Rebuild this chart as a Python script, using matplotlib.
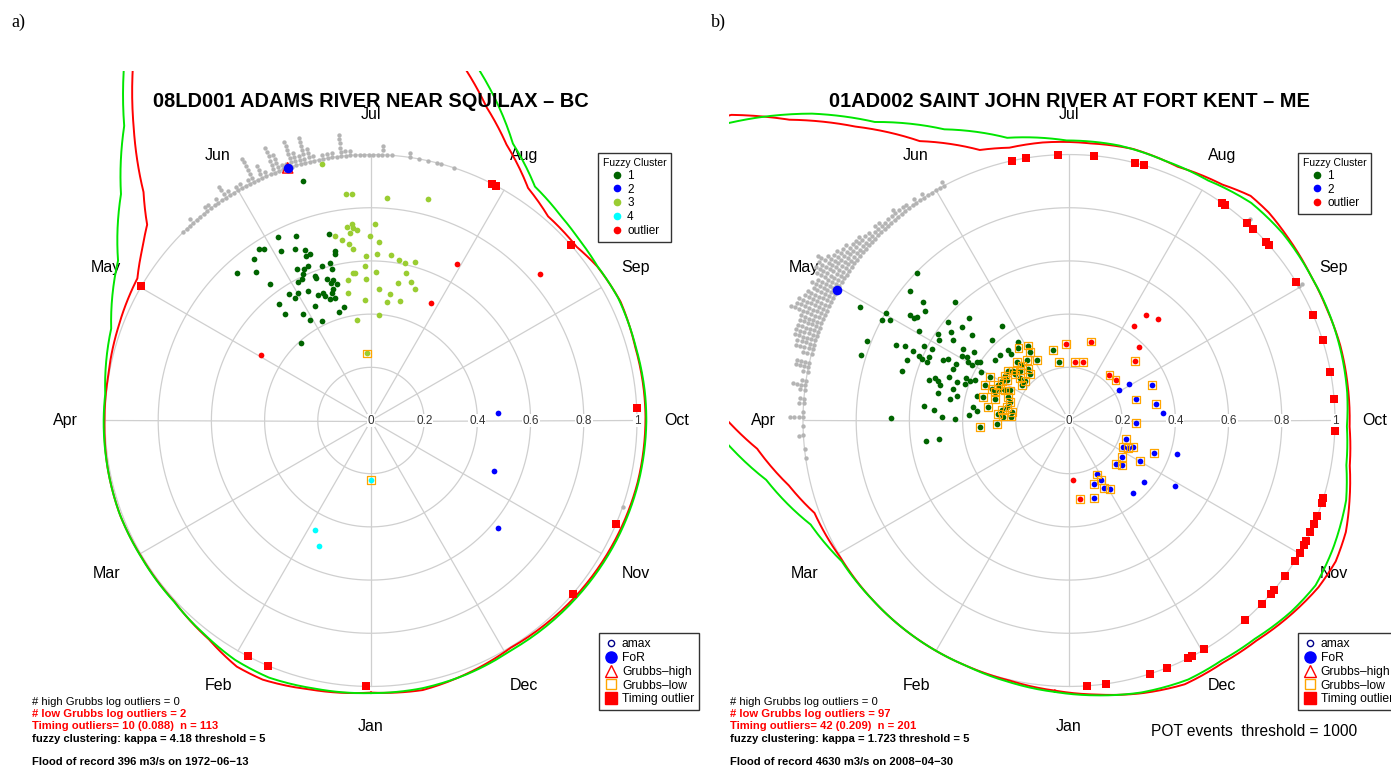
import numpy as np
import matplotlib.pyplot as plt
from matplotlib.lines import Line2D
from matplotlib.path import Path

plt.rcParams['font.family'] = ['Liberation Sans', 'DejaVu Sans']

months = ['Jan', 'Feb', 'Mar', 'Apr', 'May', 'Jun', 'Jul', 'Aug', 'Sep', 'Oct', 'Nov', 'Dec']
ring_ticks = [0, 0.2, 0.4, 0.6, 0.8, 1.0]
ring_labels = ['0', '0.2', '0.4', '0.6', '0.8', '1']

# ---------------- panel a : 08LD001 ----------------
a_title = '08LD001 ADAMS RIVER NEAR SQUILAX – BC'
# rim histogram of event dates (day of year, number of events)
a_hist_day = [137, 138, 139, 140, 141, 142, 143, 144, 145, 146, 147, 148, 149, 150, 151, 152, 153,
              154, 155, 156, 157, 158, 159, 160, 161, 162, 163, 164, 165, 166, 167, 168, 169, 170,
              171, 172, 173, 174, 175, 176, 177, 178, 179, 180, 181, 182, 183, 184, 185, 186, 187,
              191, 193, 195, 197, 198, 201, 293]
a_hist_n = [1, 1, 1, 2, 1, 1, 1, 2, 2, 1, 2, 1, 4, 2, 1, 2, 2,
            1, 2, 7, 1, 4, 2, 1, 7, 5, 2, 2, 7, 4, 3, 7, 4, 2,
            1, 2, 2, 2, 1, 6, 2, 2, 1, 1, 1, 1, 1, 1, 3, 1, 1,
            2, 1, 1, 1, 1, 1, 1]
# fuzzy clusters (seasonality vector components)
a_c1_x = [-0.351, -0.281, -0.157, -0.422, -0.403, -0.337, -0.287, -0.247, -0.230, -0.243, -0.137,
          -0.135, -0.441, -0.503, -0.434, -0.381, -0.277, -0.253, -0.235, -0.256, -0.184, -0.154,
          -0.147, -0.210, -0.206, -0.275, -0.260, -0.164, -0.151, -0.141, -0.129, -0.307, -0.275,
          -0.285, -0.235, -0.201, -0.181, -0.172, -0.147, -0.141, -0.135, -0.154, -0.345, -0.322,
          -0.256, -0.228, -0.209, -0.185, -0.122, -0.101, -0.263, -0.255]
a_c1_y = [0.689, 0.694, 0.703, 0.644, 0.645, 0.636, 0.644, 0.642, 0.627, 0.617, 0.637,
          0.627, 0.608, 0.554, 0.559, 0.514, 0.568, 0.569, 0.582, 0.552, 0.582, 0.593,
          0.569, 0.544, 0.534, 0.522, 0.531, 0.531, 0.517, 0.527, 0.512, 0.476, 0.481,
          0.459, 0.487, 0.473, 0.481, 0.468, 0.481, 0.493, 0.459, 0.456, 0.437, 0.401,
          0.400, 0.377, 0.430, 0.375, 0.409, 0.427, 0.292, 0.899]
a_c2_x = [0.478, 0.462, 0.478]
a_c2_y = [0.027, -0.191, -0.404]
a_c3_x = [-0.094, -0.072, 0.061, 0.216, -0.091, -0.072, -0.066, -0.054, -0.079, -0.137, -0.110,
          -0.082, -0.069, -0.004, 0.015, 0.031, -0.019, 0.024, 0.074, 0.106, 0.127, 0.166,
          -0.022, -0.069, -0.060, 0.018, 0.130, -0.085, -0.020, 0.102, 0.150, 0.166, -0.085,
          0.031, 0.071, -0.024, 0.059, 0.109, -0.054, 0.029, -0.184]
a_c3_y = [0.851, 0.851, 0.836, 0.834, 0.727, 0.737, 0.724, 0.718, 0.705, 0.695, 0.680,
          0.664, 0.643, 0.695, 0.739, 0.673, 0.618, 0.625, 0.624, 0.602, 0.591, 0.597,
          0.582, 0.555, 0.555, 0.558, 0.555, 0.529, 0.532, 0.518, 0.522, 0.493, 0.479,
          0.496, 0.474, 0.453, 0.447, 0.449, 0.377, 0.397, 0.966]
a_c3low_x = [-0.016]
a_c3low_y = [0.252]
a_c4_x = [-0.212, -0.195]
a_c4_y = [-0.412, -0.471]
a_c4low_x = [0.0]
a_c4low_y = [-0.224]
a_out_x = [0.324, 0.637, 0.227, -0.415]
a_out_y = [0.588, 0.550, 0.442, 0.246]
a_timing_day = [210, 211, 232, 122, 271, 297, 315, 28, 23, 1]
a_for_day = 164          # 1972-06-13
a_high_day = [164]
# circular densities (day of year, radius)
a_red_day = [0, 13, 23, 29, 37, 48, 60, 70, 81, 91, 101, 112, 123, 129, 133, 137, 143, 148,
             152, 162, 172, 183, 193, 198, 203, 209, 217, 224, 233, 239, 248, 258, 268, 273,
             287, 300, 315, 333, 344, 354]
a_red_r = [1.023, 1.037, 1.056, 1.054, 1.024, 1.005, 1.004, 1.008, 1.006, 1.002, 1.002, 1.013,
           1.028, 1.078, 1.118, 1.212, 1.419, 1.600, 1.85, 2.1, 2.2, 2.0, 1.6, 1.363, 1.256,
           1.156, 1.055, 1.016, 1.012, 1.029, 1.039, 1.031, 1.032, 1.032, 1.029, 1.022, 1.014,
           1.003, 1.018, 1.032]
a_green_day = [0, 12, 22, 30, 38, 48, 60, 71, 81, 91, 97, 111, 124, 134, 142, 147, 152, 162,
               172, 183, 193, 200, 210, 218, 226, 232, 239, 247, 258, 268, 274, 287, 300, 315,
               333, 344, 354]
a_green_r = [1.025, 1.030, 1.040, 1.035, 1.020, 1.006, 1.005, 1.008, 1.006, 1.005, 1.004, 1.036,
             1.125, 1.268, 1.445, 1.619, 1.9, 2.15, 2.25, 2.1, 1.7, 1.377, 1.170, 1.074, 1.049,
             1.037, 1.030, 1.037, 1.033, 1.035, 1.035, 1.032, 1.027, 1.020, 1.012, 1.020, 1.025]
a_stats = ['# high Grubbs log outliers = 0', '# low Grubbs log outliers = 2',
           'Timing outliers= 10 (0.088)  n = 113',
           'fuzzy clustering: kappa = 4.18 threshold = 5',
           'Flood of record 396 m3/s on 1972\u221206\u221213']

# ---------------- panel b : 01AD002 ----------------
b_title = '01AD002 SAINT JOHN RIVER AT FORT KENT – ME'
b_hist_day = [83, 85, 88, 90, 92, 93, 95, 96, 98, 99, 100, 102, 103, 104, 106, 107, 108, 109,
              110, 111, 112, 113, 114, 115, 116, 117, 118, 119, 120, 121, 122, 123, 124, 125,
              126, 127, 128, 129, 130, 131, 132, 133, 134, 135, 136, 137, 138, 139, 140, 141,
              142, 143, 144, 145, 146, 147, 148, 149, 150, 151, 152, 153, 154, 225, 243]
b_hist_n = [1, 1, 2, 1, 4, 1, 2, 2, 2, 4, 2, 2, 4, 4, 3, 5, 5, 6,
            6, 6, 6, 6, 9, 8, 8, 7, 7, 6, 7, 6, 7, 8, 8, 9,
            7, 6, 6, 5, 5, 4, 4, 4, 3, 3, 2, 3, 3, 2, 2, 2,
            3, 2, 2, 2, 1, 2, 1, 2, 1, 1, 1, 1, 2, 2, 2]
b_c1_x = [-0.786, -0.598, -0.429, -0.548, -0.541, -0.688, -0.702, -0.673, -0.598, -0.583, -0.570,
          -0.454, -0.375, -0.401, -0.253, -0.563, -0.491, -0.488, -0.445, -0.437, -0.363, -0.291,
          -0.758, -0.783, -0.650, -0.617, -0.545, -0.585, -0.516, -0.563, -0.554, -0.525, -0.533,
          -0.608, -0.629, -0.473, -0.454, -0.425, -0.435, -0.397, -0.403, -0.357, -0.385, -0.379,
          -0.366, -0.347, -0.335, -0.332, -0.259, -0.278, -0.228, -0.219, -0.193, -0.525, -0.504,
          -0.491, -0.485, -0.450, -0.422, -0.387, -0.372, -0.353, -0.391, -0.435, -0.491, -0.447,
          -0.422, -0.345, -0.544, -0.506, -0.479, -0.429, -0.375, -0.362, -0.347, -0.669, -0.538,
          -0.488, -0.570]
b_c1_y = [0.426, 0.486, 0.445, 0.445, 0.411, 0.403, 0.378, 0.378, 0.395, 0.386, 0.391,
          0.370, 0.385, 0.353, 0.357, 0.338, 0.326, 0.303, 0.332, 0.301, 0.320, 0.303,
          0.298, 0.248, 0.285, 0.279, 0.282, 0.261, 0.267, 0.244, 0.232, 0.238, 0.219,
          0.228, 0.188, 0.226, 0.232, 0.211, 0.194, 0.269, 0.244, 0.259, 0.238, 0.219,
          0.207, 0.219, 0.219, 0.182, 0.248, 0.226, 0.266, 0.251, 0.297, 0.153, 0.160,
          0.148, 0.132, 0.165, 0.144, 0.160, 0.150, 0.153, 0.138, 0.119, 0.103, 0.081,
          0.094, 0.094, 0.054, 0.041, 0.015, 0.006, 0.019, 0.050, 0.035, 0.010, -0.078,
          -0.071, 0.555]
b_c1low_x = [-0.190, -0.153, -0.147, -0.159, -0.121, -0.197, -0.178, -0.184, -0.209, -0.228,
             -0.241, -0.234, -0.253, -0.266, -0.297, -0.316, -0.291, -0.278, -0.259, -0.241,
             -0.222, -0.228, -0.222, -0.234, -0.253, -0.266, -0.247, -0.219, -0.215, -0.272,
             -0.335, -0.306, -0.324, -0.278, -0.153, -0.147, -0.165, -0.178, -0.203, -0.184,
             -0.059, -0.038]
b_c1low_y = [0.273, 0.282, 0.257, 0.226, 0.226, 0.219, 0.207, 0.188, 0.188, 0.188,
             0.169, 0.153, 0.150, 0.134, 0.165, 0.132, 0.119, 0.106, 0.119, 0.113,
             0.113, 0.088, 0.069, 0.050, 0.038, 0.023, 0.015, 0.015, 0.031, -0.013,
             -0.023, 0.050, 0.088, 0.081, 0.194, 0.175, 0.150, 0.132, 0.173, 0.160,
             0.266, 0.221]
b_c2_x = [0.227, 0.189, 0.355, 0.407, 0.283, 0.397, 0.239]
b_c2_y = [0.138, 0.115, 0.029, -0.125, -0.233, -0.246, -0.271]
b_c2low_x = [0.313, 0.252, 0.326, 0.252, 0.214, 0.204, 0.223, 0.239, 0.198, 0.177, 0.200,
             0.267, 0.320, 0.104, 0.119, 0.095, 0.133, 0.154, 0.094]
b_c2low_y = [0.135, 0.079, 0.063, -0.010, -0.069, -0.100, -0.103, -0.100, -0.138, -0.165, -0.169,
             -0.153, -0.121, -0.203, -0.223, -0.238, -0.253, -0.256, -0.291]
b_out_x = [0.289, 0.336, 0.244, 0.262, 0.016]
b_out_y = [0.398, 0.382, 0.357, 0.278, -0.222]
b_outlow_x = [-0.011, 0.082, 0.023, 0.054, 0.249, 0.152, 0.175, 0.041]
b_outlow_y = [0.288, 0.297, 0.219, 0.219, 0.224, 0.170, 0.153, -0.296]
b_timing_day = [170, 173, 180, 188, 197, 199, 218, 219, 225, 227, 231, 232, 242, 250, 256, 263,
                269, 276, 291, 292, 295, 297, 299, 301, 302, 304, 306, 310, 314, 315, 318, 323,
                334, 337, 338, 343, 347, 357, 361]
b_for_day = 121          # 2008-04-30
b_red_day = [3, 13, 23, 34, 48, 60, 71, 78, 86, 91, 96, 101, 106, 112, 117, 122, 127, 134, 139,
             146, 154, 164, 170, 177, 187, 196, 206, 216, 222, 227, 233, 242, 250, 258, 266, 275,
             283, 290, 296, 302, 308, 315, 324, 332, 341, 350, 359]
b_red_r = [1.017, 1.003, 1.0, 1.0, 1.0, 1.002, 1.018, 1.081, 1.177, 1.279, 1.45, 1.6, 1.75, 1.85,
           1.9, 1.9, 1.85, 1.712, 1.544, 1.366, 1.191, 1.071, 1.050, 1.050, 1.045, 1.049, 1.038,
           1.058, 1.086, 1.084, 1.073, 1.060, 1.056, 1.058, 1.056, 1.055, 1.069, 1.097, 1.122,
           1.134, 1.128, 1.110, 1.087, 1.079, 1.083, 1.061, 1.036]
b_green_day = [3, 13, 23, 34, 48, 59, 69, 80, 87, 96, 101, 106, 112, 117, 122, 127, 133, 136,
               142, 149, 159, 170, 182, 193, 203, 213, 223, 232, 242, 253, 261, 268, 275, 283,
               290, 300, 308, 315, 324, 332, 340, 350, 359]
b_green_r = [1.022, 1.009, 1.0, 1.0, 1.0, 1.005, 1.047, 1.160, 1.282, 1.5, 1.65, 1.8, 1.9, 1.95,
             1.95, 1.9, 1.699, 1.635, 1.505, 1.339, 1.191, 1.088, 1.053, 1.051, 1.041, 1.043,
             1.067, 1.068, 1.060, 1.057, 1.054, 1.051, 1.045, 1.056, 1.084, 1.103, 1.115, 1.102,
             1.078, 1.069, 1.072, 1.058, 1.039]
b_stats = ['# high Grubbs log outliers = 0', '# low Grubbs log outliers = 97',
           'Timing outliers= 42 (0.209)  n = 201',
           'fuzzy clustering: kappa = 1.723 threshold = 5',
           'Flood of record 4630 m3/s on 2008\u221204\u221230']


def to_xy(day, r):
    # Jan at the bottom, running clockwise (Apr left, Jul top, Oct right)
    ang = 2 * np.pi * np.asarray(day, dtype=float) / 365.0
    r = np.asarray(r, dtype=float)
    return -r * np.sin(ang), -r * np.cos(ang)


def base_panel(ax, title):
    ax.set_xlim(-1.28, 1.28)
    ax.set_ylim(-1.316, 1.316)
    ax.axis('off')
    t = np.linspace(0, 2 * np.pi, 400)
    for rr in ring_ticks[1:]:
        ax.plot(rr * np.cos(t), rr * np.sin(t), color='#cfcfcf', lw=0.9, zorder=1)
    for m in range(12):
        x, y = to_xy(m * 365 / 12, 1.0)
        ax.plot([0, x], [0, y], color='#cfcfcf', lw=0.9, zorder=1)
        lx, ly = to_xy(m * 365 / 12, 1.15)
        ax.text(lx, ly, months[m], ha='center', va='center', fontsize=11.5, zorder=2)
    for v, s in zip(ring_ticks, ring_labels):
        ax.text(v, 0, s, ha='center', va='center', fontsize=8.5, color='#333333', zorder=2,
                bbox=dict(fc='white', ec='none', pad=0.6))
    ax.text(0, 1.201, title, ha='center', va='center', fontsize=14.4, fontweight='bold', zorder=9)


def rim_hist(ax, days, counts):
    d = np.repeat(days, counts)
    k = np.concatenate([np.arange(c) for c in counts])
    x, y = to_xy(d, 1.0 + 0.0162 * k)
    ax.scatter(x, y, s=10, color='#b4b4b4', lw=0, zorder=3)


def density(ax, days, radii, color):
    # straight segments in (day, radius) space, as a polar plot draws them
    d = list(days) + [days[0] + 365]
    r = list(radii) + [radii[0]]
    v = Path(np.column_stack([d, r])).interpolated(16).vertices
    x, y = to_xy(v[:, 0], v[:, 1])
    ax.plot(x, y, color=color, lw=1.4, zorder=2)


def points(ax, xs, ys, color, low=False):
    ax.scatter(xs, ys, s=17, color=color, lw=0, zorder=4)
    if low:
        ax.scatter(xs, ys, s=32, marker='s', facecolor='none', edgecolor='orange', lw=0.9, zorder=5)


def timing(ax, days):
    x, y = to_xy(days, 1.0)
    ax.scatter(x, y, s=40, marker='s', color='red', lw=0, zorder=6)


def legends(ax, fuzzy, fx, fy, bx, by):
    h1 = [Line2D([], [], ls='', marker='o', color=c, ms=4.5, label=l) for l, c in fuzzy]
    leg1 = ax.legend(handles=h1, title='Fuzzy Cluster', title_fontsize=7.5, fontsize=8.5,
                     loc='upper left', bbox_to_anchor=(fx, fy), bbox_transform=fig.transFigure,
                     fancybox=False, edgecolor='#333333', framealpha=1, handlelength=1.2,
                     handletextpad=0.3, labelspacing=0.15, borderpad=0.4, borderaxespad=0)
    leg1.get_frame().set_linewidth(1.0)
    ax.add_artist(leg1)
    h2 = [Line2D([], [], ls='', marker='o', mfc='none', mec='#00008b', mew=1, ms=4.5, label='amax'),
          Line2D([], [], ls='', marker='o', color='blue', ms=8, label='FoR'),
          Line2D([], [], ls='', marker='^', mfc='none', mec='red', mew=1, ms=9, label='Grubbs\u2013high'),
          Line2D([], [], ls='', marker='s', mfc='none', mec='orange', mew=1, ms=7, label='Grubbs\u2013low'),
          Line2D([], [], ls='', marker='s', color='red', ms=8, label='Timing outlier')]
    leg2 = ax.legend(handles=h2, fontsize=8.7, loc='upper left', bbox_to_anchor=(bx, by),
                     bbox_transform=fig.transFigure, fancybox=False, edgecolor='#333333',
                     framealpha=1, handlelength=1.2, handletextpad=0.3, labelspacing=0.15,
                     borderpad=0.4, borderaxespad=0)
    leg2.get_frame().set_linewidth(1.0)


def stats(ax, lines):
    styles = [('black', 'normal'), ('red', 'bold'), ('red', 'bold'), ('black', 'bold'), ('black', 'bold')]
    ys = [-1.058, -1.103, -1.150, -1.197, -1.284]
    for s, (c, w), y in zip(lines, styles, ys):
        ax.text(-1.274, y, s, ha='left', va='center', fontsize=8.1, color=c, fontweight=w)


fig = plt.figure(figsize=(13.91, 7.68), dpi=100)
W, H = 1391.0, 768.0
axa = fig.add_axes([30.5 / W, (H - 770.5) / H, 681 / W, 700 / H])
axb = fig.add_axes([728.5 / W, (H - 770.5) / H, 681 / W, 700 / H])

# panel a
base_panel(axa, a_title)
density(axa, a_red_day, a_red_r, '#ff0000')
density(axa, a_green_day, a_green_r, '#00e600')
rim_hist(axa, a_hist_day, a_hist_n)
points(axa, a_c1_x, a_c1_y, '#006400')
points(axa, a_c2_x, a_c2_y, '#0000ff')
points(axa, a_c3_x, a_c3_y, '#9acd32')
points(axa, a_c3low_x, a_c3low_y, '#9acd32', low=True)
points(axa, a_c4_x, a_c4_y, '#00ffff')
points(axa, a_c4low_x, a_c4low_y, '#00ffff', low=True)
points(axa, a_out_x, a_out_y, '#ff0000')
timing(axa, a_timing_day)
hx, hy = to_xy(a_high_day, 1.0)
axa.scatter(hx, hy, s=55, marker='^', facecolor='none', edgecolor='red', lw=1, zorder=7)
fx, fy = to_xy(a_for_day, 1.0)
axa.scatter(fx, fy, s=48, color='blue', lw=0, zorder=8)
legends(axa, [('1', '#006400'), ('2', '#0000ff'), ('3', '#9acd32'), ('4', '#00ffff'), ('outlier', '#ff0000')],
        597.8 / W, 1 - 153.3 / H, 599 / W, 1 - 633.3 / H)
stats(axa, a_stats)

# panel b
base_panel(axb, b_title)
density(axb, b_red_day, b_red_r, '#ff0000')
density(axb, b_green_day, b_green_r, '#00e600')
rim_hist(axb, b_hist_day, b_hist_n)
points(axb, b_c1_x, b_c1_y, '#006400')
points(axb, b_c1low_x, b_c1low_y, '#006400', low=True)
points(axb, b_c2_x, b_c2_y, '#0000ff')
points(axb, b_c2low_x, b_c2low_y, '#0000ff', low=True)
points(axb, b_out_x, b_out_y, '#ff0000')
points(axb, b_outlow_x, b_outlow_y, '#ff0000', low=True)
timing(axb, b_timing_day)
fx, fy = to_xy(b_for_day, 1.0)
axb.scatter(fx, fy, s=48, color='blue', lw=0, zorder=8)
legends(axb, [('1', '#006400'), ('2', '#0000ff'), ('outlier', '#ff0000')],
        1297.9 / W, 1 - 153.3 / H, 1297.9 / W, 1 - 633.3 / H)
stats(axb, b_stats)
axb.text(0.694, -1.171, 'POT events  threshold = 1000', ha='center', va='center', fontsize=11.2)

fig.text(18 / W, 1 - 22 / H, 'a)', ha='center', va='center', fontsize=13, family='Liberation Serif')
fig.text(718 / W, 1 - 22 / H, 'b)', ha='center', va='center', fontsize=13, family='Liberation Serif')

fig.savefig('out.png', dpi=100)
